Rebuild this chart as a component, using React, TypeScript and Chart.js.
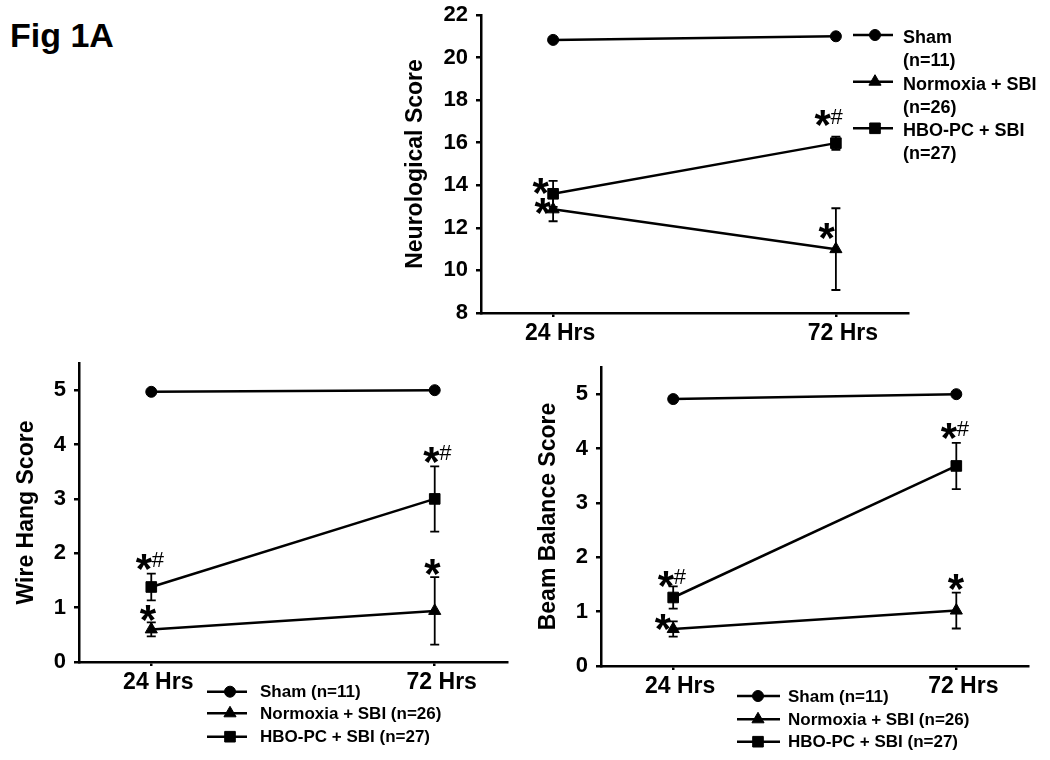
import React, { useEffect, useRef } from "react";
import { Chart, registerables } from "chart.js";

Chart.register(...registerables);

// ---------------- data ----------------
const timePoints = ["24 Hrs", "72 Hrs"];
const seriesNames = ["Sham", "Normoxia + SBI", "HBO-PC + SBI"];
const seriesN = ["(n=11)", "(n=26)", "(n=27)"];

// Neurological score
const neuroTicks = [8, 10, 12, 14, 16, 18, 20, 22];
const neuroSham = [20.83, 21.0];
const neuroShamErr = [0, 0];
const neuroNormoxia = [12.87, 11.0];
const neuroNormoxiaErr = [0.56, 1.92];
const neuroHbo = [13.6, 15.98];
const neuroHboErr = [0.61, 0.31];
const neuroNormoxiaSig = ["*", "*"];
const neuroHboSig = ["*", "*#"];

// Wire hang score
const scoreTicks = [0, 1, 2, 3, 4, 5];
const wireSham = [4.97, 5.0];
const wireShamErr = [0, 0];
const wireNormoxia = [0.6, 0.94];
const wireNormoxiaErr = [0.13, 0.62];
const wireHbo = [1.38, 3.0];
const wireHboErr = [0.245, 0.6];
const wireNormoxiaSig = ["*", "*"];
const wireHboSig = ["*#", "*#"];

// Beam balance score
const beamSham = [4.91, 5.0];
const beamShamErr = [0, 0];
const beamNormoxia = [0.68, 1.02];
const beamNormoxiaErr = [0.14, 0.33];
const beamHbo = [1.26, 3.68];
const beamHboErr = [0.205, 0.425];
const beamNormoxiaSig = ["*", "*"];
const beamHboSig = ["*#", "*#"];

// ---------------- style / layout ----------------
const FONT = "'Liberation Sans', Arial, Helvetica, sans-serif";
const POINT_STYLES = ["circle", "triangle", "rect"];
const POINT_RADII = [5.5, 7, 7.5];
const X_MIN = -0.255;
const X_MAX = 1.255;
const LINE_W = 2.5;

type Spec = any;

function drawMarker(ctx: CanvasRenderingContext2D, style: string, r: number, x: number, y: number) {
  ctx.beginPath();
  if (style === "circle") {
    ctx.arc(x, y, r, 0, Math.PI * 2);
  } else if (style === "triangle") {
    let rad = 0;
    ctx.moveTo(x + Math.sin(rad) * r, y - Math.cos(rad) * r);
    rad += (2 * Math.PI) / 3;
    ctx.lineTo(x + Math.sin(rad) * r, y - Math.cos(rad) * r);
    rad += (2 * Math.PI) / 3;
    ctx.lineTo(x + Math.sin(rad) * r, y - Math.cos(rad) * r);
    ctx.closePath();
  } else {
    const s = r * Math.SQRT1_2;
    ctx.rect(x - s, y - s, 2 * s, 2 * s);
  }
  ctx.fill();
  ctx.stroke();
}

function drawCentered(ctx: CanvasRenderingContext2D, text: string, font: string, cx: number, cy: number) {
  ctx.font = font;
  ctx.textAlign = "left";
  ctx.textBaseline = "alphabetic";
  const m = ctx.measureText(text);
  const L = m.actualBoundingBoxLeft, R = m.actualBoundingBoxRight;
  const A = m.actualBoundingBoxAscent, D = m.actualBoundingBoxDescent;
  ctx.fillText(text, cx - (R - L) / 2, cy - (D - A) / 2);
}

function buildConfig(spec: Spec) {
  const Lay = spec.layout;
  const datasets = spec.values.map((vals: number[], si: number) => ({
    label: seriesNames[si],
    data: vals.map((v, i) => ({ x: i, y: v })),
    borderColor: "#000",
    backgroundColor: "#000",
    borderWidth: LINE_W,
    pointStyle: POINT_STYLES[si],
    pointRadius: POINT_RADII[si],
    pointBorderWidth: 1,
    pointBackgroundColor: "#000",
    pointBorderColor: "#000",
    tension: 0,
    fill: false,
    clip: false,
  }));

  const zeroPad = (s: any) => {
    s.paddingLeft = 0;
    s.paddingRight = 0;
    s.paddingTop = 0;
    s.paddingBottom = 0;
  };

  const errorBarPlugin = {
    id: "errorBars",
    beforeDatasetsDraw(chart: any) {
      const ctx = chart.ctx;
      const ys = chart.scales.y;
      spec.errors.forEach((errs: number[], si: number) => {
        const meta = chart.getDatasetMeta(si);
        meta.data.forEach((pt: any, i: number) => {
          const e = errs[i];
          if (!e) return;
          const v = spec.values[si][i];
          const yTop = ys.getPixelForValue(v + e);
          const yBot = ys.getPixelForValue(v - e);
          const cap = 4.5;
          ctx.save();
          ctx.strokeStyle = "#000";
          ctx.lineWidth = 1.8;
          ctx.beginPath();
          ctx.moveTo(pt.x, yTop);
          ctx.lineTo(pt.x, yBot);
          ctx.moveTo(pt.x - cap, yTop);
          ctx.lineTo(pt.x + cap, yTop);
          ctx.moveTo(pt.x - cap, yBot);
          ctx.lineTo(pt.x + cap, yBot);
          ctx.stroke();
          ctx.restore();
        });
      });
    },
  };

  const sigPlugin = {
    id: "sigMarks",
    afterDatasetsDraw(chart: any) {
      const ctx = chart.ctx;
      spec.sigs.forEach((sigs: string[] | null, si: number) => {
        if (!sigs) return;
        const meta = chart.getDatasetMeta(si);
        meta.data.forEach((pt: any, i: number) => {
          const s = sigs[i];
          if (!s) return;
          const [dx, dy] = spec.sigOffsets[si][i];
          const cx = pt.x + dx, cy = pt.y + dy;
          ctx.save();
          ctx.fillStyle = "#000";
          drawCentered(ctx, "*", `bold 42px ${FONT}`, cx, cy);
          if (s.indexOf("#") >= 0) drawCentered(ctx, "#", `22px ${FONT}`, cx + 14, cy - 2);
          ctx.restore();
        });
      });
    },
  };

  const legendPlugin = {
    id: "figLegend",
    afterDraw(chart: any) {
      const ctx = chart.ctx;
      const lg = spec.legend;
      seriesNames.forEach((name, si) => {
        const y = lg.rows[si];
        ctx.save();
        ctx.strokeStyle = "#000";
        ctx.fillStyle = "#000";
        ctx.lineWidth = LINE_W;
        ctx.beginPath();
        ctx.moveTo(lg.x0, y);
        ctx.lineTo(lg.x1, y);
        ctx.stroke();
        ctx.lineWidth = 1;
        drawMarker(ctx, POINT_STYLES[si], POINT_RADII[si], lg.xm, y);
        ctx.font = `bold ${lg.fontSize}px ${FONT}`;
        ctx.textAlign = "left";
        ctx.textBaseline = "middle";
        if (lg.twoLine) {
          ctx.fillText(name, lg.xt, y + lg.dy1);
          ctx.fillText(seriesN[si], lg.xt, y + lg.dy2);
        } else {
          ctx.fillText(`${name} ${seriesN[si]}`, lg.xt, y + lg.dy1);
        }
        ctx.restore();
      });
    },
  };

  return {
    type: "line" as const,
    data: { datasets },
    options: {
      responsive: false,
      animation: false as const,
      events: [] as any[],
      layout: { padding: { left: 0, top: Lay.T, right: Lay.R, bottom: 0 } },
      plugins: {
        legend: { display: false },
        tooltip: { enabled: false },
      },
      scales: {
        x: {
          type: "linear" as const,
          min: X_MIN,
          max: X_MAX,
          afterBuildTicks: (s: any) => {
            s.ticks = timePoints.map((_, i) => ({ value: i }));
          },
          ticks: {
            callback: (v: any) => timePoints[v] ?? "",
            font: { family: FONT, size: 23, weight: "bold" as const },
            color: "#000",
            padding: 3,
            labelOffset: Lay.labelOffset,
            maxRotation: 0,
            autoSkip: false,
          },
          grid: { display: true, drawOnChartArea: false, drawTicks: true, tickLength: 4, color: "#000", lineWidth: 2.5 },
          border: { display: true, color: "#000", width: 2.5 },
          afterFit: (s: any) => {
            s.height = Lay.H;
            zeroPad(s);
          },
        },
        y: {
          type: "linear" as const,
          min: spec.yMin,
          max: spec.yMax,
          afterBuildTicks: (s: any) => {
            s.ticks = spec.yTicks.map((v: number) => ({ value: v }));
          },
          ticks: {
            callback: (v: any) => String(v),
            font: { family: FONT, size: 22, weight: "bold" as const },
            color: "#000",
            padding: 8,
            autoSkip: false,
          },
          grid: { display: true, drawOnChartArea: false, drawTicks: true, tickLength: 5, color: "#000", lineWidth: 2.5 },
          border: { display: true, color: "#000", width: 2.5 },
          title: {
            display: true,
            text: spec.yTitle,
            font: { family: FONT, size: 23, weight: "bold" as const },
            color: "#000",
            padding: { top: Lay.titlePad, bottom: 0 },
          },
          afterFit: (s: any) => {
            s.width = Lay.W;
            zeroPad(s);
          },
        },
      },
    },
    plugins: [errorBarPlugin, sigPlugin, legendPlugin],
  };
}

const neuroSpec = {
  box: { left: 380, top: 0, w: 670, h: 350 },
  layout: { W: 101, H: 37, T: 15, R: 142, titlePad: 22, labelOffset: 7 },
  yTitle: "Neurological Score",
  yMin: 8,
  yMax: 22,
  yTicks: neuroTicks,
  values: [neuroSham, neuroNormoxia, neuroHbo],
  errors: [neuroShamErr, neuroNormoxiaErr, neuroHboErr],
  sigs: [null, neuroNormoxiaSig, neuroHboSig],
  sigOffsets: [
    [[0, 0], [0, 0]],
    [[-10, -3], [-9, -18]],
    [[-12, -8], [-13, -25]],
  ],
  legend: { x0: 473, x1: 513, xm: 495, xt: 523, rows: [35, 81.7, 128.3], dy1: 3, dy2: 26, fontSize: 18, twoLine: true },
};

const wireSpec = {
  box: { left: 0, top: 350, w: 520, h: 410 },
  layout: { W: 79, H: 98, T: 13, R: 13, titlePad: 13, labelOffset: 7 },
  yTitle: "Wire Hang Score",
  yMin: 0,
  yMax: 5.5,
  yTicks: scoreTicks,
  values: [wireSham, wireNormoxia, wireHbo],
  errors: [wireShamErr, wireNormoxiaErr, wireHboErr],
  sigs: [null, wireNormoxiaSig, wireHboSig],
  sigOffsets: [
    [[0, 0], [0, 0]],
    [[-3, -16], [-2, -44]],
    [[-7, -25], [-3, -44]],
  ],
  legend: { x0: 207, x1: 247, xm: 230, xt: 260, rows: [341.7, 363.3, 386.7], dy1: 1, dy2: 0, fontSize: 17, twoLine: false },
};

const beamSpec = {
  box: { left: 520, top: 350, w: 530, h: 410 },
  layout: { W: 81, H: 94, T: 17, R: 21.5, titlePad: 15, labelOffset: 7 },
  yTitle: "Beam Balance Score",
  yMin: 0,
  yMax: 5.5,
  yTicks: scoreTicks,
  values: [beamSham, beamNormoxia, beamHbo],
  errors: [beamShamErr, beamNormoxiaErr, beamHboErr],
  sigs: [null, beamNormoxiaSig, beamHboSig],
  sigOffsets: [
    [[0, 0], [0, 0]],
    [[-10, -7], [0, -29]],
    [[-7, -19], [-7, -35]],
  ],
  legend: { x0: 217, x1: 260, xm: 238, xt: 268, rows: [346, 369.3, 391.7], dy1: 1, dy2: 0, fontSize: 17, twoLine: false },
};

function Panel({ spec }: { spec: Spec }) {
  const ref = useRef<HTMLCanvasElement>(null);
  useEffect(() => {
    const chart = new Chart(ref.current as HTMLCanvasElement, buildConfig(spec) as any);
    return () => chart.destroy();
  }, []);
  const b = spec.box;
  return (
    <div style={{ position: "absolute", left: b.left, top: b.top, width: b.w, height: b.h }}>
      <canvas ref={ref} width={b.w} height={b.h} style={{ display: "block", width: b.w, height: b.h }} />
    </div>
  );
}

export default function App() {
  return (
    <div style={{ position: "absolute", left: 0, top: 0, width: 1050, height: 760, background: "#fff", overflow: "hidden" }}>
      <div
        style={{
          position: "absolute",
          left: 10,
          top: 18,
          fontFamily: FONT,
          fontWeight: "bold",
          fontSize: 34,
          lineHeight: "34px",
          color: "#000",
          whiteSpace: "nowrap",
        }}
      >
        Fig 1A
      </div>
      <Panel spec={neuroSpec} />
      <Panel spec={wireSpec} />
      <Panel spec={beamSpec} />
    </div>
  );
}
